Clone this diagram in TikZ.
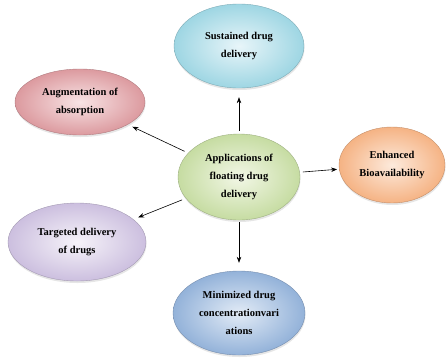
\documentclass[tikz,border=0pt]{standalone}
\usepackage{fontspec}
\setmainfont{Liberation Serif}
\usetikzlibrary{shapes.geometric,shadows,arrows.meta}
\definecolor{bluein}{HTML}{E8F5F9}
\definecolor{blueout}{HTML}{9ED6E3}
\definecolor{pinkin}{HTML}{F8E4E5}
\definecolor{pinkout}{HTML}{DC9A9F}
\definecolor{greenin}{HTML}{F2F7E6}
\definecolor{greenout}{HTML}{C6DCA2}
\definecolor{orangein}{HTML}{FDEADC}
\definecolor{orangeout}{HTML}{F5B384}
\definecolor{lavin}{HTML}{F6F3F9}
\definecolor{lavout}{HTML}{CCBFDF}
\definecolor{navyin}{HTML}{E2EBF6}
\definecolor{navyout}{HTML}{93B2D9}
\begin{document}
\begin{tikzpicture}[x=1pt,y=-1pt,
  bub/.style n args={4}{ellipse, inner sep=0pt, minimum width=#3pt, minimum height=#4pt,
    inner color=#1, outer color=#2, draw=#2!80!black, line width=0.4pt,
    drop shadow={shadow xshift=0.5pt, shadow yshift=-2pt, opacity=0.2},
    align=center, font=\bfseries\fontsize{10.5}{18}\selectfont},
  arr/.style={-{Stealth[length=6pt,width=4.5pt]}, line width=0.6pt, black}]
\useasboundingbox (0,0) rectangle (446,362);
\node[bub={bluein}{blueout}{130}{84}] (sus) at (239,46) {Sustained drug\\delivery};
\node[bub={pinkin}{pinkout}{130}{66}] (aug) at (80,102) {Augmentation of\\absorption};
\node[bub={greenin}{greenout}{122}{86}] (app) at (239,177) {Applications of\\floating drug\\delivery};
\node[bub={orangein}{orangeout}{106}{76}] (enh) at (392,165) {Enhanced\\Bioavailability};
\node[bub={lavin}{lavout}{138}{78}] (tar) at (77,242) {Targeted delivery\\of drugs};
\node[bub={navyin}{navyout}{132}{84}] (min) at (239,313) {Minimized drug\\concentrationvari\\ations};
\draw[arr, shorten <=3pt, shorten >=9pt] (app) -- (sus);
\draw[arr, shorten <=4pt, shorten >=5pt] (app) -- (aug);
\draw[arr, shorten <=3pt, shorten >=2pt] (app) -- (enh);
\draw[arr, shorten <=4pt, shorten >=5pt] (app) -- (tar);
\draw[arr, shorten <=2pt, shorten >=8pt] (app) -- (min);
\end{tikzpicture}
\end{document}
